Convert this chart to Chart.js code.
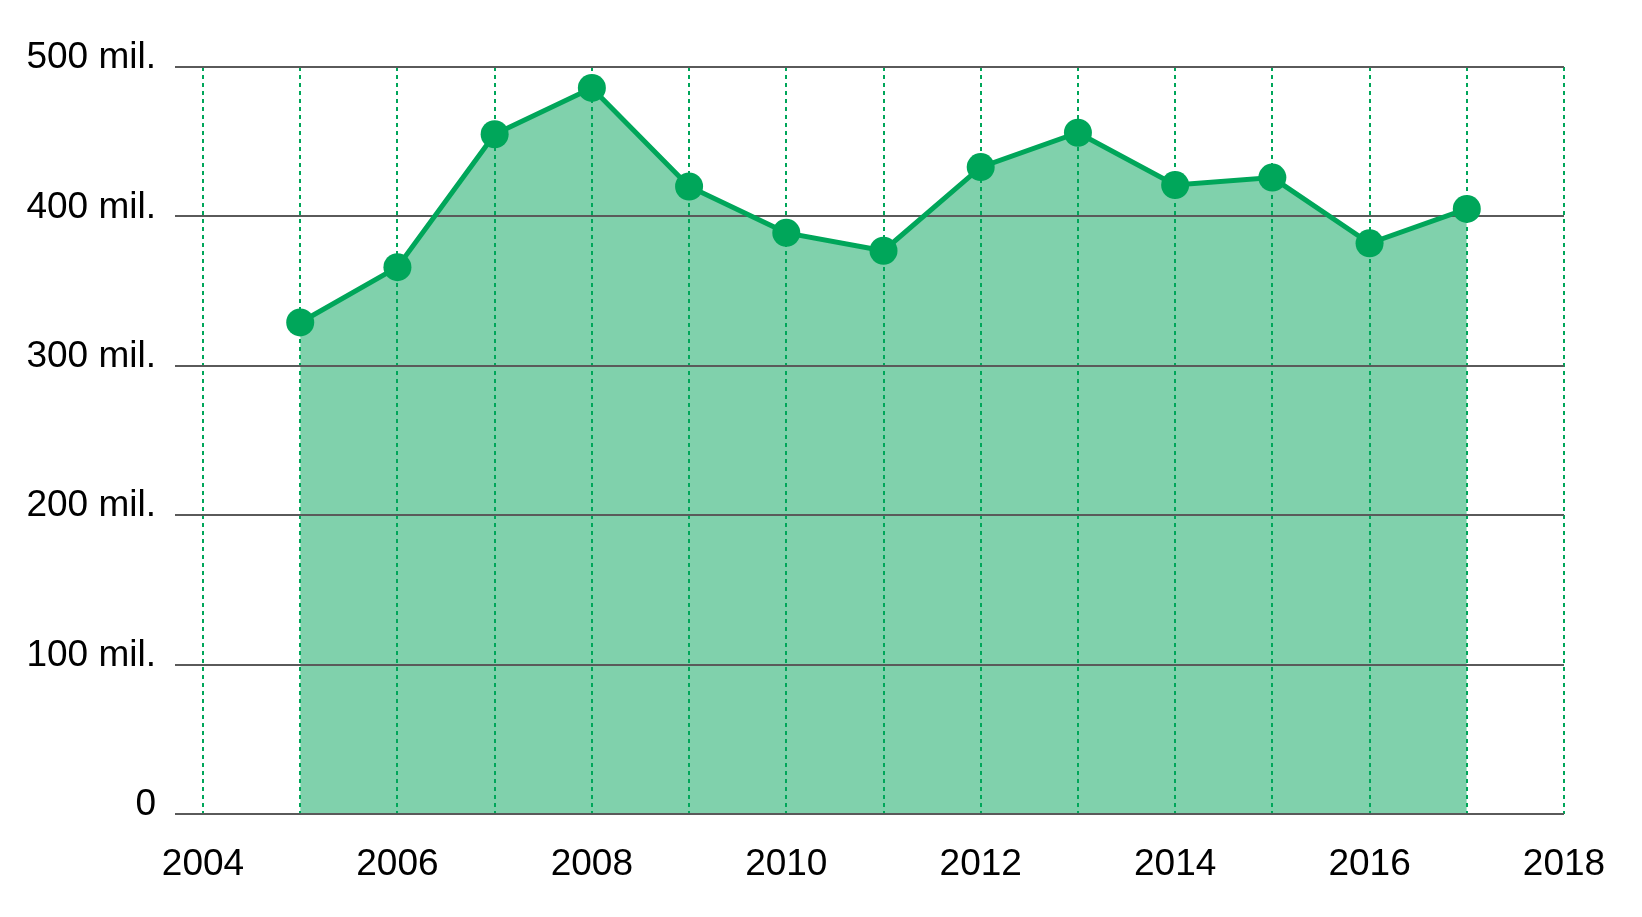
<!DOCTYPE html>
<html>
<head>
    <title>Yearly totals</title>
    <script src="https://cdn.jsdelivr.net/npm/chart.js"></script>
    <style>
        html, body { margin: 0; padding: 0; background: #fff; }
        #wrap { width: 1642px; height: 917px; position: relative; }
    </style>
</head>
<body>
    <div id="wrap"><canvas id="myChart"></canvas></div>

    <script>
        // Values in millions
        var years = [2005, 2006, 2007, 2008, 2009, 2010, 2011, 2012, 2013, 2014, 2015, 2016, 2017];
        var values = [329, 366, 455, 486, 420, 389, 377, 433, 456, 421, 426, 382, 405];
        var xMin = 2004, xMax = 2018;
        var yTicks = [0, 100, 200, 300, 400, 500];

        var green = '#00A65A';
        var fillGreen = '#80D1AC';
        var font = { family: '"Liberation Sans", Arial, sans-serif', size: 37 };

        var points = years.map(function (yr, i) { return { x: yr, y: values[i] }; });

        var ctx = document.getElementById("myChart").getContext("2d");
        var chart = new Chart(ctx, {
            type: 'line',
            data: {
                datasets: [{
                    data: points,
                    borderColor: green,
                    borderWidth: 5,
                    backgroundColor: fillGreen,
                    fill: 'origin',
                    tension: 0,
                    pointRadius: 14,
                    pointHoverRadius: 14,
                    pointBackgroundColor: green,
                    pointBorderWidth: 0
                }]
            },
            options: {
                responsive: true,
                maintainAspectRatio: false,
                animation: false,
                layout: { padding: { top: 67, right: 78, left: 0, bottom: 0 } },
                plugins: {
                    legend: { display: false },
                    tooltip: { enabled: false },
                    // fill goes under the grid, line and dots stay on top
                    filler: { drawTime: 'beforeDraw' }
                },
                scales: {
                    x: {
                        type: 'linear',
                        min: xMin,
                        max: xMax,
                        afterBuildTicks: function (scale) {
                            var t = [];
                            for (var v = xMin; v <= xMax; v++) t.push({ value: v });
                            scale.ticks = t;
                        },
                        afterFit: function (scale) { scale.height = 103; },
                        ticks: {
                            autoSkip: false,
                            maxRotation: 0,
                            padding: 29,
                            color: '#000',
                            font: font,
                            callback: function (v) { return v % 2 === 0 ? String(v) : ''; }
                        },
                        grid: {
                            color: green,
                            lineWidth: 2,
                            drawTicks: false
                        },
                        border: { display: false, dash: [4, 4] }
                    },
                    y: {
                        min: 0,
                        max: 500,
                        afterBuildTicks: function (scale) {
                            scale.ticks = yTicks.map(function (v) { return { value: v }; });
                        },
                        afterFit: function (scale) { scale.width = 203; },
                        ticks: {
                            padding: 19,
                            labelOffset: -9,
                            color: '#000',
                            font: font,
                            callback: function (v) { return v === 0 ? '0' : v + ' mil.'; }
                        },
                        grid: {
                            color: '#5a5a5a',
                            lineWidth: 2,
                            tickLength: 28
                        },
                        border: { display: false }
                    }
                }
            }
        });
    </script>
</body>
</html>
